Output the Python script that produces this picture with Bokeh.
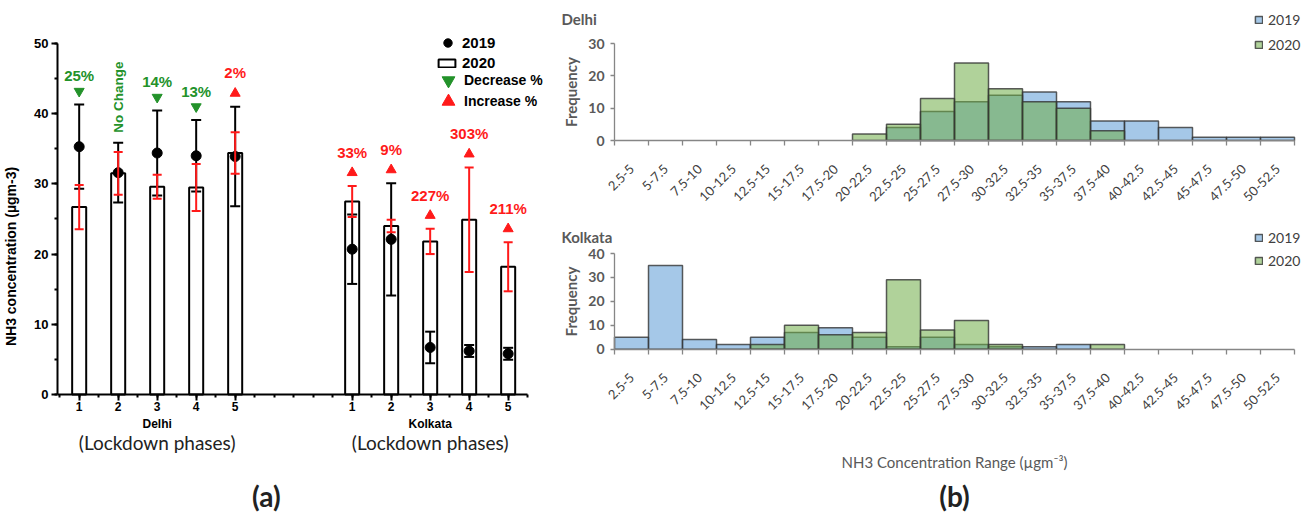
import numpy as np
from bokeh.plotting import figure
from bokeh.models import (ColumnDataSource, FixedTicker, Legend, LegendItem,
                          Label, CDSView, BooleanFilter)
from bokeh.layouts import row, column
from bokeh.embed import file_html
from bokeh.resources import INLINE
from bokeh.core.properties import value

# ---------------- Panel (a) data ----------------
phases = ["1", "2", "3", "4", "5"]
delhi_2020 = [26.7, 31.5, 29.6, 29.5, 34.4]
delhi_2020_err = [3.15, 3.05, 1.7, 3.35, 2.95]
delhi_2019 = [35.3, 31.6, 34.4, 34.0, 33.9]
delhi_2019_err = [6.0, 4.25, 6.05, 5.1, 7.1]
kolkata_2020 = [27.5, 24.0, 21.8, 24.9, 18.2]
kolkata_2020_err = [2.2, 0.9, 1.8, 7.45, 3.5]
kolkata_2019 = [20.7, 22.1, 6.7, 6.2, 5.8]
kolkata_2019_err = [4.95, 8.0, 2.25, 0.85, 0.85]
delhi_change = [25, 0, 14, 13, 2]
delhi_trend = ["down", "none", "down", "down", "up"]
kolkata_change = [33, 9, 227, 303, 211]
kolkata_trend = ["up", "up", "up", "up", "up"]
cities = ["Delhi", "Kolkata"]

# ---------------- Panel (b) data ----------------
conc_bins = ["2.5-5", "5-7.5", "7.5-10", "10-12.5", "12.5-15", "15-17.5",
             "17.5-20", "20-22.5", "22.5-25", "25-27.5", "27.5-30", "30-32.5",
             "32.5-35", "35-37.5", "37.5-40", "40-42.5", "42.5-45", "45-47.5",
             "47.5-50", "50-52.5"]
delhi_freq_2019 = [0, 0, 0, 0, 0, 0, 0, 0, 4, 9, 12, 14, 15, 12, 6, 6, 4, 1, 1, 1]
delhi_freq_2020 = [0, 0, 0, 0, 0, 0, 0, 2, 5, 13, 24, 16, 12, 10, 3, 0, 0, 0, 0, 0]
kolkata_freq_2019 = [5, 35, 4, 2, 5, 7, 9, 5, 1, 5, 2, 1, 1, 2, 0, 0, 0, 0, 0, 0]
kolkata_freq_2020 = [0, 0, 0, 0, 2, 10, 6, 7, 29, 8, 12, 2, 0, 0, 2, 0, 0, 0, 0, 0]

# ---------------- styles ----------------
FA = "Liberation Sans"
FB = "Lato"
GREEN = "#23922a"
RED = "#ff1a1a"
GREY = "#595959"
AXGREY = "#868686"

# ================= Panel (a) =================
pos_d = np.arange(1, len(phases) + 1)
pos_k = pos_d + len(phases) + 2
xs = np.concatenate([pos_d, pos_k]).astype(float)
v20 = np.array(delhi_2020 + kolkata_2020)
e20 = np.array(delhi_2020_err + kolkata_2020_err)
v19 = np.array(delhi_2019 + kolkata_2019)
e19 = np.array(delhi_2019_err + kolkata_2019_err)
change = delhi_change + kolkata_change
trend = np.array(delhi_trend + kolkata_trend)

pa = figure(frame_width=492, frame_height=512, x_range=(0.444, 13.06), y_range=(-16.81, 56.125),
            min_border_left=57, min_border_right=0, min_border_top=0, min_border_bottom=0,
            output_backend="svg", toolbar_location=None)
pa.xgrid.visible = False
pa.ygrid.visible = False
pa.outline_line_color = None

bars = pa.vbar(x=xs, top=v20, width=0.36, fill_color="white", line_color="black", line_width=2)


def errbar(p, x, y, e, color, cap):
    src = ColumnDataSource(dict(x=x, lo=y - e, hi=y + e))
    p.segment(x0="x", y0="lo", x1="x", y1="hi", source=src, line_color=color, line_width=2)
    p.scatter(x="x", y="lo", marker="dash", size=cap, line_color=color, line_width=2, source=src)
    p.scatter(x="x", y="hi", marker="dash", size=cap, line_color=color, line_width=2, source=src)


errbar(pa, xs, v19, e19, "black", 10)
dots = pa.scatter(x=xs, y=v19, marker="circle", size=10, fill_color="black", line_color="black")
errbar(pa, xs, v20, e20, RED, 9)

top = np.maximum(v19 + e19, v20 + e20)
tri_y = top + 1.9
down = trend == "down"
up = trend == "up"
none = trend == "none"
labels = np.array([f"{c}%" for c in change])

dn_r = pa.scatter(x=xs[down], y=tri_y[down], marker="inverted_triangle", size=10,
                  fill_color=GREEN, line_color=GREEN)
up_r = pa.scatter(x=xs[up], y=tri_y[up], marker="triangle", size=10,
                  fill_color=RED, line_color=RED)
pa.text(x=xs[down], y=tri_y[down] + 2.2, text=list(labels[down]), text_align="center",
        text_baseline="middle", text_font=value(FA), text_font_style="bold",
        text_font_size="15px", text_color=GREEN)
pa.text(x=xs[up], y=tri_y[up] + 2.9, text=list(labels[up]), text_align="center",
        text_baseline="middle", text_font=value(FA), text_font_style="bold",
        text_font_size="15px", text_color=RED)
pa.text(x=xs[none], y=top[none] + 6.5, text=["No Change"] * int(none.sum()), angle=np.pi / 2,
        text_align="center", text_baseline="middle", text_font=value(FA), text_font_style="bold",
        text_font_size="13.5px", text_color=GREEN)

# axes
ya = pa.yaxis[0]
ya.bounds = (0, 50)
ya.ticker = FixedTicker(ticks=list(range(0, 51, 10)), minor_ticks=list(range(0, 51, 5)))
ya.axis_line_width = 2
ya.major_tick_line_width = 2
ya.minor_tick_line_width = 2
ya.major_tick_out = 6
ya.major_tick_in = 0
ya.minor_tick_out = 3
ya.minor_tick_in = 0
ya.major_label_text_font = FA
ya.major_label_text_font_style = "bold"
ya.major_label_text_font_size = "13px"
ya.major_label_text_color = "black"
ya.major_label_standoff = 3
ya.axis_label = "NH3 concentration (µgm-3)"
ya.axis_label_text_font = FA
ya.axis_label_text_font_style = "bold"
ya.axis_label_text_font_size = "14px"
ya.axis_label_text_color = "black"
ya.axis_label_standoff = 12

xa = pa.xaxis[0]
xa.fixed_location = 0
xa.bounds = (0.444, 12.5)
xa.ticker = FixedTicker(ticks=list(xs), minor_ticks=list(np.arange(0.5, 12.51, 0.5)))
xa.major_label_overrides = {float(p): ph for p, ph in zip(pos_k, phases)}
xa.axis_line_width = 2
xa.major_tick_line_width = 2
xa.minor_tick_line_width = 2
xa.major_tick_out = 6
xa.major_tick_in = 0
xa.minor_tick_out = 3
xa.minor_tick_in = 0
xa.major_label_text_font = FA
xa.major_label_text_font_style = "bold"
xa.major_label_text_font_size = "12px"
xa.major_label_text_color = "black"
xa.major_label_standoff = 2

for pos, city in zip([pos_d, pos_k], cities):
    cx = float(np.mean(pos))
    pa.add_layout(Label(x=cx, y=-4.15, text=city, text_align="center", text_baseline="middle",
                        text_font=FA, text_font_style="bold", text_font_size="12px",
                        text_color="black"))
    pa.add_layout(Label(x=cx, y=-6.85, text="(Lockdown phases)", text_align="center",
                        text_baseline="middle", text_font=FB, text_font_size="19px",
                        text_color="#222222"))
pa.add_layout(Label(x=5.8, y=-14.4, text="(a)", text_align="center", text_baseline="middle",
                    text_font=FB, text_font_style="bold", text_font_size="28px",
                    text_color="#222222"))


def single_legend(p, label, renderer, gw, gh, loc, standoff, size, font, color, style="bold"):
    lg = Legend(items=[LegendItem(label=label, renderers=[renderer])], location=loc,
                glyph_width=gw, glyph_height=gh, label_height=gh, label_standoff=standoff,
                padding=0, margin=0, spacing=0, border_line_alpha=0,
                background_fill_alpha=0, label_text_font=font,
                label_text_font_style=style, label_text_font_size=size,
                label_text_color=color, label_text_baseline="middle")
    p.add_layout(lg)
    return lg


single_legend(pa, "2019", dots, 21, 21, (380, 459), 4, "15px", FA, "black")
single_legend(pa, "2020", bars, 21, 10, (379, 441), 5, "15px", FA, "black")
single_legend(pa, "Decrease %", dn_r, 32, 32, (375, 416), -6, "14px", FA, "black")
single_legend(pa, "Increase %", up_r, 32, 32, (375, 395), -6, "14px", FA, "black")

# ================= Panel (b) =================
BLUE = "#5B9BD5"
GRN = "#70AD47"


def hist_panel(name, f19, f20, ymax, ystep, frame_h, y_lo, y_hi, title_y,
               leg_loc, leg_spacing, xlabel=None, tag_y=None):
    n = len(conc_bins)
    centers = np.arange(n) + 0.5
    p = figure(frame_width=752, frame_height=frame_h, x_range=(-1.912, 20.206),
               y_range=(y_lo, y_hi), min_border_left=0, min_border_right=0, min_border_top=0,
               min_border_bottom=0, output_backend="svg", toolbar_location=None)
    p.xgrid.visible = False
    p.ygrid.visible = False
    p.outline_line_color = None
    src = ColumnDataSource(dict(x=centers, f19=f19, f20=f20))
    r19 = p.vbar(x="x", top="f19", width=1, source=src,
                 view=CDSView(filter=BooleanFilter([v > 0 for v in f19])),
                 fill_color=BLUE, fill_alpha=0.55, line_color="#333333",
                 line_width=1.5, line_alpha=0.8)
    r20 = p.vbar(x="x", top="f20", width=1, source=src,
                 view=CDSView(filter=BooleanFilter([v > 0 for v in f20])),
                 fill_color=GRN, fill_alpha=0.55, line_color="#333333",
                 line_width=1.5, line_alpha=0.8)

    ya = p.yaxis[0]
    ya.fixed_location = 0
    ya.bounds = (0, ymax)
    ya.ticker = FixedTicker(ticks=list(range(0, ymax + 1, ystep)), minor_ticks=[])
    ya.axis_line_color = AXGREY
    ya.axis_line_width = 1.3
    ya.major_tick_line_color = AXGREY
    ya.major_tick_line_width = 1.3
    ya.major_tick_out = 4
    ya.major_tick_in = 0
    ya.major_label_text_font = FB
    ya.major_label_text_font_style = "bold"
    ya.major_label_text_font_size = "14px"
    ya.major_label_text_color = GREY
    ya.major_label_standoff = 6
    ya.axis_label = "Frequency"
    ya.axis_label_text_font = FB
    ya.axis_label_text_font_style = "bold"
    ya.axis_label_text_font_size = "15px"
    ya.axis_label_text_color = GREY
    ya.axis_label_standoff = 5

    xa = p.xaxis[0]
    xa.fixed_location = 0
    xa.bounds = (0, n)
    xa.ticker = FixedTicker(ticks=list(centers), minor_ticks=list(range(0, n + 1)))
    xa.major_label_overrides = {float(c): b for c, b in zip(centers, conc_bins)}
    xa.major_label_orientation = np.pi / 4
    xa.axis_line_color = AXGREY
    xa.axis_line_width = 1.3
    xa.major_tick_line_color = None
    xa.minor_tick_line_color = AXGREY
    xa.minor_tick_line_width = 1.3
    xa.minor_tick_out = 5
    xa.minor_tick_in = 0
    xa.major_label_text_font = FB
    xa.major_label_text_font_size = "13px"
    xa.major_label_text_color = "#404040"
    xa.major_label_standoff = 20
    if xlabel:
        xa.axis_label = xlabel
        xa.axis_label_text_font = FB
        xa.axis_label_text_font_style = "normal"
        xa.axis_label_text_font_size = "15px"
        xa.axis_label_text_color = GREY
        xa.axis_label_standoff = 35

    p.add_layout(Label(x=-1.56, y=title_y, text=name, text_align="left", text_baseline="middle",
                       text_font=FB, text_font_style="bold", text_font_size="15px",
                       text_color=GREY))
    if tag_y is not None:
        p.add_layout(Label(x=n / 2, y=tag_y, text="(b)", text_align="center",
                           text_baseline="middle", text_font=FB, text_font_style="bold",
                           text_font_size="28px", text_color="#222222"))

    lg = Legend(items=[LegendItem(label="2019", renderers=[r19]),
                       LegendItem(label="2020", renderers=[r20])],
                location=leg_loc, glyph_width=9, glyph_height=9, label_height=9,
                label_standoff=5, padding=0, margin=0, spacing=leg_spacing,
                border_line_alpha=0, background_fill_alpha=0, label_text_font=FB,
                label_text_font_size="14px", label_text_color="#404040",
                label_text_baseline="middle")
    p.add_layout(lg)
    return p


pd_ = hist_panel("Delhi", delhi_freq_2019, delhi_freq_2020, 30, 10, 210, -21.65, 43.3, 37.7,
                 (705, 157), 8)
pk_ = hist_panel("Kolkata", kolkata_freq_2019, kolkata_freq_2020, 40, 10, 302, -68.27, 57.98,
                 46.7, (705, 243), 6, xlabel="NH3 Concentration Range (µgm⁻³)", tag_y=-61.2)

layout = row(pa, column(pd_, pk_))
open("out.html", "w").write(file_html(layout, INLINE))
